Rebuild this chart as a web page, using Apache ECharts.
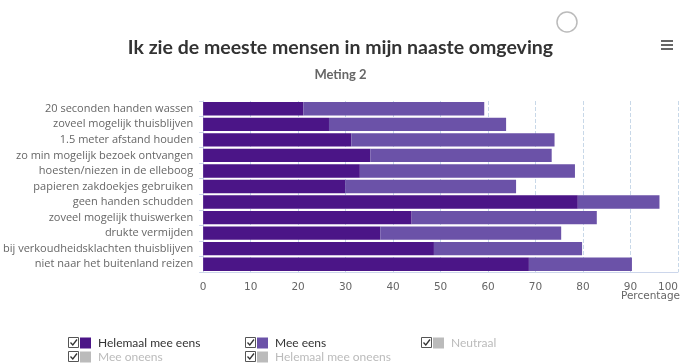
<!DOCTYPE html>
<html>
<head>
<meta charset="utf-8">
<script src="https://cdn.jsdelivr.net/npm/echarts@6/dist/echarts.min.js"></script>
<style>
  html, body { margin: 0; padding: 0; background: #fff; }
  #chart { width: 681px; height: 364px; }
</style>
</head>
<body>
<div id="chart"></div>
<script>
// 数据
const categories = [
  '20 seconden handen wassen',
  'zoveel mogelijk thuisblijven',
  '1.5 meter afstand houden',
  'zo min mogelijk bezoek ontvangen',
  'hoesten/niezen in de elleboog',
  'papieren zakdoekjes gebruiken',
  'geen handen schudden',
  'zoveel mogelijk thuiswerken',
  'drukte vermijden',
  'bij verkoudheidsklachten thuisblijven',
  'niet naar het buitenland reizen'
];
const helemaalMeeEens = [21.1, 26.5, 31.2, 35.2, 33.0, 29.9, 78.9, 43.9, 37.3, 48.6, 68.6];
const meeEens = [38.1, 37.3, 42.8, 38.2, 45.3, 36.0, 17.2, 39.0, 38.1, 31.2, 21.7];
// 隐藏的系列（图例中为灰色）
const neutraal = [];
const meeOneens = [];
const helemaalMeeOneens = [];

const seriesNames = ['Helemaal mee eens', 'Mee eens', 'Neutraal', 'Mee oneens', 'Helemaal mee oneens'];
const seriesData = [helemaalMeeEens, meeEens, neutraal, meeOneens, helemaalMeeOneens];
const seriesColors = ['#4b1587', '#6b52a8', '#9e9ac8', '#cbc9e2', '#f2f0f7'];

const font = 'Lato, "Open Sans", sans-serif';

// 图例位置（复选框 + 图例）
const legendPos = [
  { x: 68, y: 337 },
  { x: 245, y: 337 },
  { x: 421, y: 337 },
  { x: 68, y: 351 },
  { x: 245, y: 351 }
];

const selected = {};
seriesNames.forEach((n, i) => { selected[n] = i < 2; });

const legends = seriesNames.map((name, i) => ({
  data: [name],
  left: legendPos[i].x + 12,
  top: legendPos[i].y,
  padding: 0,
  icon: 'rect',
  itemWidth: 11,
  itemHeight: 11,
  itemGap: 0,
  selected: selected,
  inactiveColor: '#bbbbbb',
  textStyle: { fontFamily: font, fontSize: 12, color: '#333', padding: [0, 0, 0, 2] }
}));

// 复选框
const checkboxes = [];
legendPos.forEach(p => {
  checkboxes.push({
    type: 'rect',
    shape: { x: p.x + 0.5, y: p.y + 0.5, width: 10, height: 10 },
    style: { fill: '#fff', stroke: '#555', lineWidth: 1 }
  });
  checkboxes.push({
    type: 'polyline',
    shape: { points: [[p.x + 2.5, p.y + 5.5], [p.x + 4.8, p.y + 8], [p.x + 9, p.y + 2.5]] },
    style: { fill: null, stroke: '#333', lineWidth: 1.3 }
  });
});

const chart = echarts.init(document.getElementById('chart'), null, { renderer: 'canvas' });

const option = {
  animation: false,
  backgroundColor: '#fff',
  title: {
    text: 'Ik zie de meeste mensen in mijn naaste omgeving',
    subtext: 'Meting 2',
    left: 'center',
    top: 33,
    itemGap: 10,
    textStyle: { fontFamily: font, fontSize: 19.5, fontWeight: 'bold', color: '#333' },
    subtextStyle: { fontFamily: font, fontSize: 13, fontWeight: 'bold', color: '#666' }
  },
  legend: legends,
  grid: { left: 203, right: 3, top: 101, bottom: 92, containLabel: false },
  xAxis: {
    type: 'value',
    min: 0,
    max: 100,
    interval: 10,
    axisLine: { show: true, lineStyle: { color: '#ccd6eb' } },
    axisTick: { show: false },
    axisLabel: {
      fontFamily: '"DejaVu Sans", sans-serif',
      fontSize: 10.5,
      color: '#666',
      margin: 10,
      alignMaxLabel: 'right'
    },
    splitLine: { show: true, lineStyle: { color: '#c8d8e8', type: 'dashed', width: 1 } }
  },
  yAxis: {
    type: 'category',
    inverse: true,
    data: categories,
    axisLine: { show: true, lineStyle: { color: '#ccd6eb' } },
    axisTick: { show: true, length: 4, lineStyle: { color: '#ccd6eb' } },
    axisLabel: { fontFamily: '"Open Sans", sans-serif', fontSize: 11, color: '#666', margin: 10 }
  },
  series: seriesNames.map((name, i) => ({
    name: name,
    type: 'bar',
    stack: 'total',
    data: seriesData[i],
    barCategoryGap: '14%',
    itemStyle: { color: seriesColors[i] }
  })),
  graphic: [
    ...checkboxes,
    {
      type: 'text',
      right: 1,
      top: 291,
      style: { text: 'Percentage', fontFamily: '"DejaVu Sans", sans-serif', fontSize: 10.5, fill: '#666' }
    },
    {
      type: 'circle',
      shape: { cx: 567, cy: 22, r: 10 },
      style: { fill: 'none', stroke: '#bbb', lineWidth: 1.5 }
    },
    {
      type: 'group',
      left: 661,
      top: 40,
      children: [0, 4, 8].map(dy => ({
        type: 'rect',
        shape: { x: 0, y: dy, width: 12, height: 2 },
        style: { fill: '#666' }
      }))
    }
  ]
};

chart.setOption(option);
</script>
</body>
</html>
